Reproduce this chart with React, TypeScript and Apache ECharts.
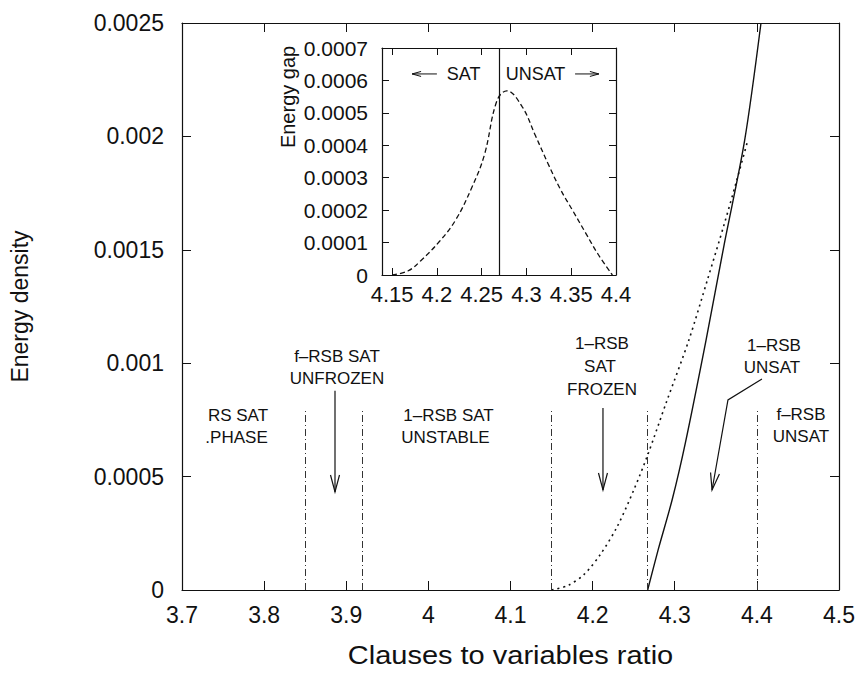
import React, { useEffect, useRef } from "react";
import * as echarts from "echarts";

// ---------------- data ----------------
const mainXTicks = [3.7, 3.8, 3.9, 4.0, 4.1, 4.2, 4.3, 4.4, 4.5];
const mainYTicks = [0, 0.0005, 0.001, 0.0015, 0.002, 0.0025];

// phase boundaries (dash-dot vertical lines) and their height
const phaseBoundaries = [3.85, 3.92, 4.15, 4.267, 4.4];
const boundaryTop = 0.0008;

// 1-RSB SAT energy (dotted)
const dottedX = [4.15, 4.17, 4.19, 4.21, 4.23, 4.25, 4.267, 4.29, 4.317, 4.34, 4.36, 4.375, 4.388];
const dottedY = [0, 0.00002, 0.00007, 0.00016, 0.00028, 0.00044, 0.000595, 0.00083, 0.0011, 0.00137, 0.00161, 0.0018, 0.00197];

// 1-RSB UNSAT energy (solid)
const solidX = [4.267, 4.28, 4.297, 4.313, 4.338, 4.36, 4.385, 4.405];
const solidY = [0, 0.00018, 0.0004, 0.00065, 0.0011, 0.00152, 0.00198, 0.0025];

// inset: energy gap
const gapX = [4.15, 4.168, 4.182, 4.203, 4.221, 4.239, 4.253, 4.267, 4.278, 4.295, 4.31, 4.324, 4.338, 4.352, 4.366, 4.38, 4.396];
const gapY = [0, 0.000013, 0.000044, 0.000104, 0.00017, 0.00027, 0.00037, 0.000537, 0.000568, 0.00052, 0.00043, 0.000344, 0.000264, 0.000197, 0.00013, 0.000064, 0];
const insetXTicks = [4.15, 4.2, 4.25, 4.3, 4.35, 4.4];
const insetYTicks = [0, 0.0001, 0.0002, 0.0003, 0.0004, 0.0005, 0.0006, 0.0007];
const insetXMin = 4.1387;
const satThreshold = 4.267;

// annotation labels in main data coordinates
const phaseLabels: [string, number, number][] = [
  ["RS SAT", 3.7682, 0.000768],
  [".PHASE", 3.7664, 0.000672],
  ["f\u2013RSB SAT", 3.8887, 0.00103],
  ["UNFROZEN", 3.8887, 0.000934],
  ["1\u2013RSB SAT", 4.0245, 0.000768],
  ["UNSTABLE", 4.0208, 0.000672],
  ["1\u2013RSB", 4.2114, 0.001085],
  ["SAT", 4.209, 0.000984],
  ["FROZEN", 4.2114, 0.000882],
  ["1\u2013RSB", 4.4208, 0.00108],
  ["UNSAT", 4.4184, 0.000983],
  ["f\u2013RSB", 4.4537, 0.000772],
  ["UNSAT", 4.4537, 0.000675],
];
// arrows (polyline points, main data coords)
const phaseArrows: [number, number][][] = [
  [[3.8863, 0.000878], [3.8863, 0.000432]],
  [[4.2126, 0.000802], [4.2126, 0.000441]],
  [[4.4062, 0.00093], [4.3648, 0.000838], [4.3454, 0.000441]],
];
// inset annotations (inset data coords)
const insetLabels: [string, number, number][] = [
  ["SAT", 4.2298, 0.00062],
  ["UNSAT", 4.3101, 0.00062],
];
const insetArrows: [number, number][][] = [
  [[4.2, 0.00062], [4.1723, 0.00062]],
  [[4.3543, 0.00062], [4.3809, 0.00062]],
];
const insetTitleY = 0.000549;

const BLACK = "#111";
const SANS = "'Liberation Sans', Arial, Helvetica, sans-serif";
const fmt = (v: number) => String(parseFloat(Number(v).toFixed(6)));

function arrowHead(tip: number[], from: number[], L: number, W: number) {
  const dx = tip[0] - from[0];
  const dy = tip[1] - from[1];
  const d = Math.hypot(dx, dy) || 1;
  const ux = dx / d, uy = dy / d;
  const nx = -uy, ny = ux;
  return [
    [tip[0] - ux * L + nx * W, tip[1] - uy * L + ny * W],
    [tip[0], tip[1]],
    [tip[0] - ux * L - nx * W, tip[1] - uy * L - ny * W],
  ];
}

export default function App() {
  const ref = useRef<HTMLDivElement>(null);
  useEffect(() => {
    document.body.style.margin = "0";
    const chart = echarts.init(ref.current!, null, { renderer: "svg", width: 865, height: 673 });

    const axisLine = { show: true, onZero: false, lineStyle: { color: BLACK, width: 1.2 } };
    const tickStyle = { color: BLACK, width: 1 };

    const option: any = {
      animation: false,
      backgroundColor: "#fff",
      grid: [
        { left: 182, top: 23, width: 657, height: 567, show: false },
        { left: 382, top: 48, width: 234, height: 227, show: true, backgroundColor: "#fff", borderWidth: 0 },
      ],
      xAxis: [
        {
          gridIndex: 0, type: "value", min: mainXTicks[0], max: mainXTicks[mainXTicks.length - 1], interval: 0.1, position: "bottom",
          axisLine, axisTick: { inside: true, length: 9, lineStyle: tickStyle },
          axisLabel: { fontFamily: SANS, fontSize: 23, color: BLACK, margin: 13, formatter: fmt, showMinLabel: true, showMaxLabel: true },
          splitLine: { show: false },
        },
        {
          gridIndex: 0, type: "value", min: mainXTicks[0], max: mainXTicks[mainXTicks.length - 1], interval: 0.1, position: "top",
          axisLine, axisTick: { inside: true, length: 9, lineStyle: tickStyle },
          axisLabel: { show: false }, splitLine: { show: false },
        },
        {
          gridIndex: 1, type: "value", min: insetXMin, max: 4.4, position: "bottom",
          axisLine, axisTick: { inside: true, length: 7, lineStyle: tickStyle, customValues: insetXTicks },
          axisLabel: { customValues: insetXTicks, fontFamily: SANS, fontSize: 22, color: BLACK, margin: 8, formatter: fmt },
          splitLine: { show: false },
        },
        {
          gridIndex: 1, type: "value", min: insetXMin, max: 4.4, position: "top",
          axisLine, axisTick: { inside: true, length: 7, lineStyle: tickStyle, customValues: insetXTicks },
          axisLabel: { show: false }, splitLine: { show: false },
        },
      ],
      yAxis: [
        {
          gridIndex: 0, type: "value", min: mainYTicks[0], max: mainYTicks[mainYTicks.length - 1], interval: 0.0005, position: "left",
          axisLine, axisTick: { inside: true, length: 9, lineStyle: tickStyle },
          axisLabel: { fontFamily: SANS, fontSize: 23, color: BLACK, margin: 18, formatter: fmt },
          splitLine: { show: false },
          name: "Energy density", nameLocation: "middle", nameGap: 151,
          nameTextStyle: { fontFamily: SANS, fontSize: 23, color: BLACK },
        },
        {
          gridIndex: 0, type: "value", min: mainYTicks[0], max: mainYTicks[mainYTicks.length - 1], interval: 0.0005, position: "right",
          axisLine, axisTick: { inside: true, length: 9, lineStyle: tickStyle },
          axisLabel: { show: false }, splitLine: { show: false },
        },
        {
          gridIndex: 1, type: "value", min: insetYTicks[0], max: insetYTicks[insetYTicks.length - 1], interval: 0.0001, position: "left",
          axisLine, axisTick: { inside: true, length: 7, lineStyle: tickStyle },
          axisLabel: { fontFamily: SANS, fontSize: 21, color: BLACK, margin: 14, formatter: fmt },
          splitLine: { show: false },
        },
        {
          gridIndex: 1, type: "value", min: insetYTicks[0], max: insetYTicks[insetYTicks.length - 1], interval: 0.0001, position: "right",
          axisLine, axisTick: { inside: true, length: 7, lineStyle: tickStyle },
          axisLabel: { show: false }, splitLine: { show: false },
        },
      ],
      series: [
        {
          type: "line", xAxisIndex: 0, yAxisIndex: 0, showSymbol: false, smooth: 0.3,
          data: dottedX.map((x, i) => [x, dottedY[i]]),
          lineStyle: { color: BLACK, width: 1.6, type: [2, 4] },
          markLine: {
            silent: true, symbol: "none", label: { show: false },
            lineStyle: { color: "#333", width: 1, type: [7, 3, 1, 3] },
            data: phaseBoundaries.map((x) => [{ coord: [x, 0] }, { coord: [x, boundaryTop] }]),
          },
        },
        {
          type: "line", xAxisIndex: 0, yAxisIndex: 0, showSymbol: false, smooth: 0.3,
          data: solidX.map((x, i) => [x, solidY[i]]),
          lineStyle: { color: BLACK, width: 1.4, type: "solid" },
        },
        {
          type: "line", xAxisIndex: 2, yAxisIndex: 2, showSymbol: false, smooth: 0.4,
          data: gapX.map((x, i) => [x, gapY[i]]),
          lineStyle: { color: BLACK, width: 1.3, type: [5, 3] },
          markLine: {
            silent: true, symbol: "none", label: { show: false },
            lineStyle: { color: BLACK, width: 1.2, type: "solid" },
            data: [{ xAxis: satThreshold }],
          },
        },
      ],
    };
    chart.setOption(option);

    const toMain = (p: number[]) => chart.convertToPixel({ xAxisIndex: 0, yAxisIndex: 0 }, p) as number[];
    const toInset = (p: number[]) => chart.convertToPixel({ xAxisIndex: 2, yAxisIndex: 2 }, p) as number[];

    const graphics: any[] = [];
    // x-axis title (horizontally stretched like the reference)
    const midX = (mainXTicks[0] + mainXTicks[mainXTicks.length - 1]) / 2;
    const [tx, ty] = toMain([midX, 0]);
    graphics.push({
      type: "text", x: tx, y: ty + 65, scaleX: 1.16, z: 10,
      style: { text: "Clauses to variables ratio", fill: BLACK, font: `25px ${SANS}`, align: "center", verticalAlign: "middle" },
    });
    phaseLabels.forEach(([t, x, y]) => {
      const [px, py] = toMain([x, y]);
      graphics.push({
        type: "text", x: px, y: py, z: 10,
        style: { text: t, fill: BLACK, font: `17px ${SANS}`, align: "center", verticalAlign: "middle" },
      });
    });
    phaseArrows.forEach((pts) => {
      const px = pts.map(toMain);
      graphics.push({ type: "polyline", z: 10, shape: { points: px }, style: { stroke: BLACK, lineWidth: 1.2, fill: "none" } });
      const tip = px[px.length - 1];
      const from = px[px.length - 2];
      graphics.push({ type: "polyline", z: 10, shape: { points: arrowHead(tip, from, 17, 4.5) }, style: { stroke: BLACK, lineWidth: 1.2, fill: "none" } });
    });
    insetLabels.forEach(([t, x, y]) => {
      const [px, py] = toInset([x, y]);
      graphics.push({
        type: "text", x: px, y: py, z: 10,
        style: { text: t, fill: BLACK, font: `18px ${SANS}`, align: "center", verticalAlign: "middle" },
      });
    });
    insetArrows.forEach((pts) => {
      const px = pts.map(toInset);
      graphics.push({ type: "polyline", z: 10, shape: { points: px }, style: { stroke: BLACK, lineWidth: 1, fill: "none" } });
      graphics.push({ type: "polyline", z: 10, shape: { points: arrowHead(px[1], px[0], 9, 2.5) }, style: { stroke: BLACK, lineWidth: 1, fill: "none" } });
    });
    // inset y-axis title
    const [gx, gy] = toInset([insetXMin, insetTitleY]);
    graphics.push({
      type: "text", x: gx - 94, y: gy, rotation: Math.PI / 2, z: 10,
      style: { text: "Energy gap", fill: BLACK, font: `20px ${SANS}`, align: "center", verticalAlign: "middle" },
    });
    chart.setOption({ graphic: graphics });

    return () => chart.dispose();
  }, []);
  return (
    <div
      ref={ref}
      style={{ width: 865, height: 673, position: "absolute", left: 0, top: 0, background: "#fff" }}
    />
  );
}
